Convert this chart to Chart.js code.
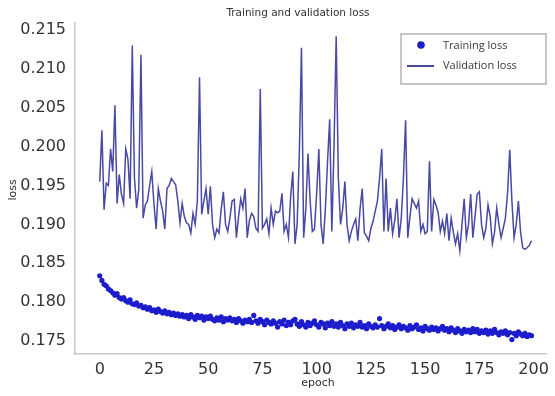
<!DOCTYPE html>
<html>
<head>
<meta charset="utf-8">
<script src="https://cdn.jsdelivr.net/npm/chart.js@4"></script>
<style>
  html, body { margin: 0; padding: 0; background: #fff; }
  #wrap { width: 555px; height: 396px; position: relative; }
</style>
</head>
<body>
<div id="wrap"><canvas id="lossChart"></canvas></div>
<script>
// loss per epoch
const trainingLoss = [
  0.1834, 0.1828, 0.1823, 0.1821, 0.1817, 0.1815, 0.1812, 0.1809, 0.1811, 0.1806,
  0.1804, 0.1806, 0.1802, 0.1800, 0.1803, 0.1798, 0.1797, 0.1799, 0.1795, 0.1796,
  0.1793, 0.1794, 0.1791, 0.1793, 0.1789, 0.1790, 0.1787, 0.1791, 0.1788, 0.1786,
  0.1789, 0.1785, 0.1787, 0.1784, 0.1786, 0.1783, 0.1785, 0.1782, 0.1784, 0.1781,
  0.1783, 0.1779, 0.1784, 0.1781, 0.1778, 0.1783, 0.1780, 0.1782, 0.1777, 0.1781,
  0.1779, 0.1782, 0.1778, 0.1776, 0.1780, 0.1777, 0.1781, 0.1775, 0.1779, 0.1777,
  0.1780, 0.1776, 0.1778, 0.1774, 0.1779, 0.1776, 0.1773, 0.1777, 0.1775, 0.1778,
  0.1774, 0.1783, 0.1776, 0.1773, 0.1778, 0.1775, 0.1771, 0.1777, 0.1774, 0.1772,
  0.1776, 0.1773, 0.1768, 0.1775, 0.1772, 0.1777, 0.1770, 0.1774, 0.1771, 0.1776,
  0.1778, 0.1772, 0.1769, 0.1775, 0.1771, 0.1768, 0.1774, 0.1770, 0.1773, 0.1776,
  0.1771, 0.1768, 0.1774, 0.1772, 0.1767, 0.1773, 0.1770, 0.1775, 0.1769, 0.1772,
  0.1768, 0.1774, 0.1770, 0.1766, 0.1772, 0.1769, 0.1773, 0.1767, 0.1771, 0.1769,
  0.1774, 0.1768, 0.1770, 0.1766, 0.1772, 0.1769, 0.1767, 0.1771, 0.1768, 0.1779,
  0.1770, 0.1766, 0.1769, 0.1772, 0.1767, 0.1770, 0.1765, 0.1768, 0.1771, 0.1766,
  0.1769, 0.1767, 0.1764, 0.1770, 0.1766, 0.1768, 0.1771, 0.1765, 0.1767, 0.1763,
  0.1769, 0.1766, 0.1764, 0.1768, 0.1765, 0.1767, 0.1763, 0.1766, 0.1769, 0.1764,
  0.1766, 0.1762, 0.1767, 0.1764, 0.1761, 0.1766, 0.1763, 0.1760, 0.1765, 0.1762,
  0.1764, 0.1761, 0.1766, 0.1762, 0.1765, 0.1760, 0.1763, 0.1761, 0.1764, 0.1759,
  0.1763, 0.1760, 0.1765, 0.1761, 0.1758, 0.1762, 0.1760, 0.1763, 0.1758, 0.1761,
  0.1752, 0.1760, 0.1757, 0.1762, 0.1759, 0.1757, 0.1760, 0.1756, 0.1758, 0.1757
];

const validationLoss = [
  0.1955, 0.2021, 0.1919, 0.1953, 0.1950, 0.1997, 0.1968, 0.2053, 0.1927, 0.1964,
  0.1939, 0.1927, 0.1997, 0.1984, 0.1933, 0.2130, 0.1960, 0.1921, 0.1945, 0.2118,
  0.1908, 0.1925, 0.1930, 0.1950, 0.1968, 0.1926, 0.1894, 0.1946, 0.1930, 0.1917,
  0.1894, 0.1946, 0.1950, 0.1959, 0.1955, 0.1951, 0.1930, 0.1902, 0.1927, 0.1910,
  0.1902, 0.1900, 0.1889, 0.1914, 0.1900, 0.1930, 0.2089, 0.1913, 0.1930, 0.1946,
  0.1913, 0.1949, 0.1900, 0.1883, 0.1894, 0.1889, 0.1920, 0.1942, 0.1900, 0.1891,
  0.1908, 0.1930, 0.1932, 0.1883, 0.1910, 0.1933, 0.1921, 0.1946, 0.1883, 0.1905,
  0.1914, 0.1910, 0.1895, 0.1891, 0.2074, 0.1895, 0.1900, 0.1907, 0.1888, 0.1921,
  0.1900, 0.1917, 0.1915, 0.1917, 0.1940, 0.1891, 0.1900, 0.1883, 0.1935, 0.1968,
  0.1875, 0.1900, 0.1990, 0.2127, 0.1883, 0.1920, 0.1991, 0.1930, 0.1891, 0.1894,
  0.1940, 0.1997, 0.1900, 0.1875, 0.1919, 0.1980, 0.2035, 0.1891, 0.2000, 0.2142,
  0.1960, 0.1900, 0.1920, 0.1955, 0.1900, 0.1879, 0.1891, 0.1900, 0.1907, 0.1879,
  0.1920, 0.1946, 0.1889, 0.1885, 0.1879, 0.1895, 0.1904, 0.1917, 0.1930, 0.1960,
  0.1997, 0.1891, 0.1959, 0.1891, 0.1921, 0.1888, 0.1905, 0.1933, 0.1883, 0.1908,
  0.1960, 0.2034, 0.1883, 0.1910, 0.1933, 0.1927, 0.1921, 0.1930, 0.1891, 0.1900,
  0.1888, 0.1891, 0.1981, 0.1891, 0.1932, 0.1925, 0.1915, 0.1891, 0.1904, 0.1888,
  0.1914, 0.1879, 0.1908, 0.1890, 0.1875, 0.1888, 0.1866, 0.1900, 0.1933, 0.1883,
  0.1900, 0.1939, 0.1883, 0.1910, 0.1939, 0.1942, 0.1900, 0.1883, 0.1895, 0.1925,
  0.1910, 0.1875, 0.1890, 0.1921, 0.1900, 0.1883, 0.1895, 0.1908, 0.1940, 0.1996,
  0.1930, 0.1883, 0.1900, 0.1930, 0.1890, 0.1870, 0.1868, 0.1870, 0.1873, 0.1879
];

const epochs = trainingLoss.map((_, i) => i);
const xTicks = [0, 25, 50, 75, 100, 125, 150, 175, 200];
const yTicks = [0.175, 0.180, 0.185, 0.190, 0.195, 0.200, 0.205, 0.210, 0.215];

const pointBlue = 'rgb(28, 28, 205)';
const lineBlue = 'rgba(52, 52, 155, 0.9)';

// title, axis names and the boxed legend are painted by hand
const decorations = {
  id: 'decorations',
  afterDraw(chart) {
    const ctx = chart.ctx;
    ctx.save();
    ctx.fillStyle = '#333';
    ctx.textAlign = 'center';
    ctx.textBaseline = 'middle';
    ctx.font = '10.5px "DejaVu Sans"';
    ctx.fillText('Training and validation loss', 298, 13);
    ctx.font = '11px "DejaVu Sans"';
    ctx.fillText('epoch', 318, 383);
    ctx.translate(13, 190);
    ctx.rotate(-Math.PI / 2);
    ctx.fillText('loss', 0, 0);
    ctx.restore();

    // legend
    const ds = chart.data.datasets;
    ctx.save();
    ctx.fillStyle = '#fff';
    ctx.fillRect(401, 34, 145, 50);
    ctx.strokeStyle = '#b8b8b8';
    ctx.lineWidth = 1.6;
    ctx.strokeRect(401, 34, 145, 50);
    ctx.fillStyle = ds[0].backgroundColor;
    ctx.beginPath();
    ctx.arc(421, 45, 3.8, 0, Math.PI * 2);
    ctx.fill();
    ctx.strokeStyle = ds[1].borderColor;
    ctx.lineWidth = 2;
    ctx.beginPath();
    ctx.moveTo(407, 66);
    ctx.lineTo(434, 66);
    ctx.stroke();
    ctx.fillStyle = '#3a3a3a';
    ctx.font = '11px "Open Sans"';
    ctx.textBaseline = 'middle';
    ctx.fillText(ds[0].label, 443, 46);
    ctx.fillText(ds[1].label, 443, 66);
    ctx.restore();
  }
};

new Chart(document.getElementById('lossChart'), {
  type: 'scatter',
  data: {
    datasets: [{
      label: 'Training loss',
      data: epochs.map((e, i) => ({ x: e, y: trainingLoss[i] })),
      backgroundColor: pointBlue,
      borderColor: pointBlue,
      pointRadius: 2.6,
      borderWidth: 0,
      showLine: false
    }, {
      type: 'line',
      label: 'Validation loss',
      data: epochs.map((e, i) => ({ x: e, y: validationLoss[i] })),
      borderColor: lineBlue,
      backgroundColor: lineBlue,
      borderWidth: 1.5,
      pointRadius: 0,
      tension: 0,
      fill: false
    }]
  },
  plugins: [decorations],
  options: {
    responsive: true,
    maintainAspectRatio: false,
    animation: false,
    layout: { padding: { top: 23, right: 5, left: 0, bottom: 0 } },
    plugins: {
      legend: { display: false },
      tooltip: { enabled: false }
    },
    scales: {
      x: {
        type: 'linear',
        min: -11.4,
        max: 206,
        afterFit: (s) => { s.height = 42; },
        afterBuildTicks: (s) => { s.ticks = xTicks.map(v => ({ value: v })); },
        grid: { display: false, drawTicks: false },
        border: { display: true, color: '#c8c8c8', width: 1.5 },
        ticks: { color: '#333', padding: 6, font: { family: 'DejaVu Sans', size: 16 } }
      },
      y: {
        min: 0.17334,
        max: 0.21589,
        afterFit: (s) => { s.width = 75; },
        afterBuildTicks: (s) => { s.ticks = yTicks.map(v => ({ value: v })); },
        grid: { display: false, drawTicks: false },
        border: { display: true, color: '#c8c8c8', width: 1.5 },
        ticks: {
          color: '#333',
          padding: 9,
          font: { family: 'DejaVu Sans', size: 16 },
          callback: (v) => v.toFixed(3)
        }
      }
    }
  }
});
</script>
</body>
</html>
